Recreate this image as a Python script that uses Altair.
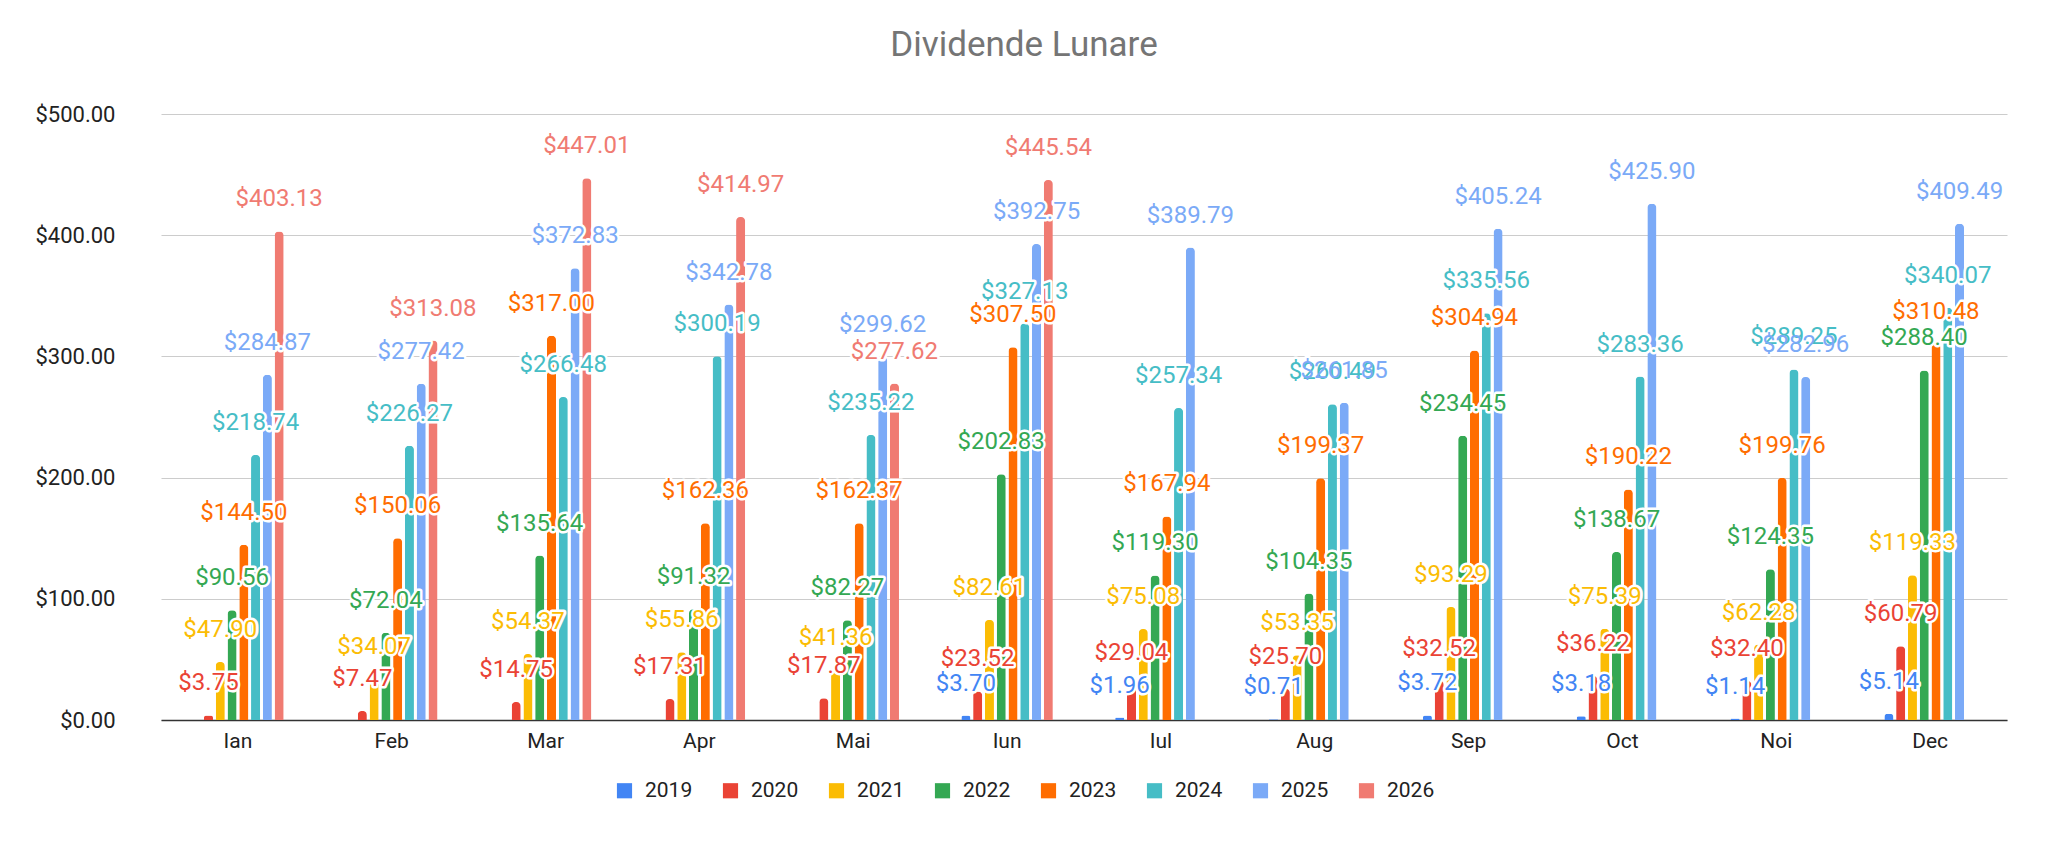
import altair as alt
import pandas as pd

months = ["Ian", "Feb", "Mar", "Apr", "Mai", "Iun", "Iul", "Aug", "Sep", "Oct", "Noi", "Dec"]
years = ["2019", "2020", "2021", "2022", "2023", "2024", "2025", "2026"]
palette = ["#4285F4", "#EA4335", "#FBBC04", "#34A853", "#FF6D01", "#46BDC6", "#7BAAF7", "#F07B72"]

d2019 = [None, None, None, None, None, 3.70, 1.96, 0.71, 3.72, 3.18, 1.14, 5.14]
d2020 = [3.75, 7.47, 14.75, 17.31, 17.87, 23.52, 29.04, 25.70, 32.52, 36.22, 32.40, 60.79]
d2021 = [47.90, 34.07, 54.37, 55.86, 41.36, 82.61, 75.08, 53.35, 93.29, 75.39, 62.28, 119.33]
d2022 = [90.56, 72.04, 135.64, 91.32, 82.27, 202.83, 119.30, 104.35, 234.45, 138.67, 124.35, 288.40]
d2023 = [144.50, 150.06, 317.00, 162.36, 162.37, 307.50, 167.94, 199.37, 304.94, 190.22, 199.76, 310.48]
d2024 = [218.74, 226.27, 266.48, 300.19, 235.22, 327.13, 257.34, 260.49, 335.56, 283.36, 289.25, 340.07]
d2025 = [284.87, 277.42, 372.83, 342.78, 299.62, 392.75, 389.79, 261.85, 405.24, 425.90, 282.96, 409.49]
d2026 = [403.13, 313.08, 447.01, 414.97, 277.62, 445.54, None, None, None, None, None, None]

series = [d2019, d2020, d2021, d2022, d2023, d2024, d2025, d2026]

rows = []
for an, vals in zip(years, series):
    for luna, v in zip(months, vals):
        if v is not None:
            rows.append({"Luna": luna, "An": an, "Valoare": v})
df = pd.DataFrame(rows)

FONT = "Roboto"

x = alt.X(
    "Luna:N", sort=months, title=None,
    scale=alt.Scale(paddingInner=0.39, paddingOuter=0.195),
    axis=alt.Axis(labelAngle=0, labelFontSize=21, labelColor="#222222", labelFont=FONT,
                  labelPadding=10, ticks=False, grid=False,
                  domainColor="#333333", domainWidth=1.5),
)
xo = alt.XOffset("An:N", sort=years,
                 scale=alt.Scale(domain=years, paddingInner=0.23, paddingOuter=0.1))
y = alt.Y(
    "Valoare:Q", title=None,
    scale=alt.Scale(domain=[0, 500], nice=False),
    axis=alt.Axis(format="$,.2f", values=[0, 100, 200, 300, 400, 500],
                  labelFontSize=22, labelColor="#222222", labelFont=FONT,
                  labelPadding=46, ticks=False, domain=False,
                  gridColor="#cccccc", gridWidth=1.2),
)
color = alt.Color(
    "An:N", sort=years,
    scale=alt.Scale(domain=years, range=palette),
    legend=alt.Legend(title=None, orient="none", direction="horizontal",
                      legendX=453, legendY=666, symbolType="square",
                      symbolSize=230, symbolStrokeWidth=0, labelFontSize=21,
                      labelFont=FONT, labelColor="#222222", columnPadding=27,
                      labelOffset=10),
)

base = alt.Chart(df)

bars = base.mark_bar(cornerRadiusEnd=4).encode(x=x, xOffset=xo, y=y, color=color)

halo = base.mark_text(dy=-32, fontSize=24, font=FONT, fill="white", stroke="white",
                      strokeWidth=5, strokeJoin="round").encode(
    x=x, xOffset=xo, y=y,
    text=alt.Text("Valoare:Q", format="$,.2f"),
)

labels = base.mark_text(dy=-32, fontSize=24, font=FONT).encode(
    x=x, xOffset=xo, y=y,
    color=alt.Color("An:N", sort=years, scale=alt.Scale(domain=years, range=palette), legend=None),
    text=alt.Text("Valoare:Q", format="$,.2f"),
)

chart = (bars + halo + labels).properties(
    width=1846,
    height=606,
    autosize=alt.AutoSizeParams(type="none"),
    padding={"left": 153, "top": 106, "right": 33, "bottom": 113},
    title=alt.TitleParams("Dividende Lunare", fontSize=35, font=FONT, fontWeight="normal",
                          color="#757575", anchor="middle", offset=40, dx=-60),
).configure_view(stroke=None)

chart.save("out.html", embed_options={"renderer": "svg", "actions": False})
